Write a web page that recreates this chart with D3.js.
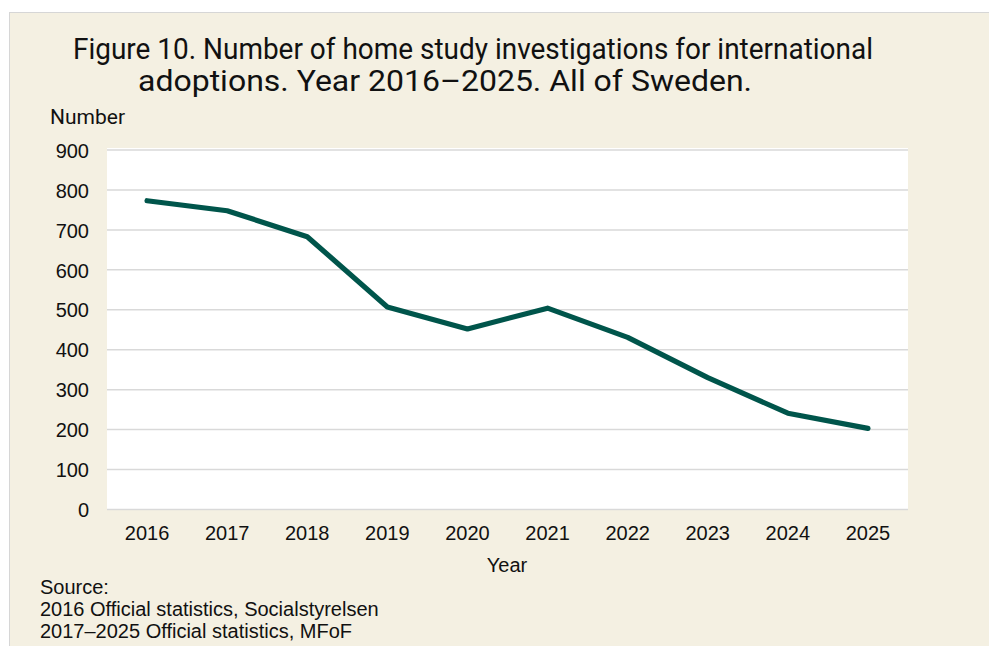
<!DOCTYPE html>
<meta charset="utf-8">
<title>Home study investigations</title>
<style>
body { margin: 0; background: #fff; }
.tick text { font-family: "Liberation Sans", Arial, sans-serif; font-size: 20px; fill: #111; }
.grid line { stroke: #d9d9d9; stroke-width: 1.5; }
</style>
<body>
<script src="https://cdn.jsdelivr.net/npm/d3@7"></script>
<script>

// data
var years = ["2016","2017","2018","2019","2020","2021","2022","2023","2024","2025"];
var counts = [773, 748, 683, 507, 452, 504, 431, 330, 241, 203];
var yTicks = [0,100,200,300,400,500,600,700,800,900];
var titleLines = ["Figure 10. Number of home study investigations for international",
                  "adoptions. Year 2016\u20132025. All of Sweden."];
var sourceLines = ["Source:", "2016 Official statistics, Socialstyrelsen", "2017\u20132025 Official statistics, MFoF"];

var width = 989, height = 646;
var plotL = 107, plotR = 908, plotT = 150, plotB = 509.5;

var svg = d3.select("body").append("svg")
    .attr("width", width)
    .attr("height", height);

// outer panel
svg.append("rect")
    .attr("x", 9.5).attr("y", 12.5)
    .attr("width", width).attr("height", height)
    .attr("fill", "#f4f0e2")
    .attr("stroke", "#d6d6d6");

// plot area
svg.append("rect")
    .attr("x", plotL).attr("y", plotT - 2)
    .attr("width", plotR - plotL).attr("height", plotB - plotT + 2)
    .attr("fill", "#fff");

var x = d3.scaleBand().domain(years).range([plotL, plotR]);
var y = d3.scaleLinear().domain([0, 900]).range([plotB, plotT]);

// gridlines
svg.append("g").attr("class", "grid")
  .selectAll("line").data(yTicks).enter().append("line")
    .attr("x1", plotL).attr("x2", plotR)
    .attr("y1", function(d) { return y(d); })
    .attr("y2", function(d) { return y(d); });

// y axis labels
var yAxis = svg.append("g")
    .attr("transform", "translate(" + (plotL - 18) + ",0)")
    .call(d3.axisLeft(y).tickValues(yTicks).tickSize(0).tickPadding(0));
yAxis.select(".domain").remove();
yAxis.selectAll("text").attr("dy", "0.36em");

// x axis labels
var xAxis = svg.append("g")
    .attr("transform", "translate(0," + plotB + ")")
    .call(d3.axisBottom(x).tickSize(0).tickPadding(16));
xAxis.select(".domain").remove();

var line = d3.line()
    .x(function(d, i) { return x(years[i]) + x.bandwidth() / 2; })
    .y(function(d) { return y(d); });

svg.append("path")
    .datum(counts)
    .attr("d", line)
    .attr("fill", "none")
    .attr("stroke", "#00554b")
    .attr("stroke-width", 5.2)
    .attr("stroke-linecap", "round")
    .attr("stroke-linejoin", "round");

// title
var titleLens = [800, 614];
var titleX = [473, 445];
svg.selectAll(".title").data(titleLines).enter().append("text")
    .attr("class", "title")
    .attr("x", function(d, i) { return titleX[i]; })
    .attr("y", function(d, i) { return 59 + i * 32; })
    .attr("text-anchor", "middle")
    .attr("textLength", function(d, i) { return titleLens[i]; })
    .attr("lengthAdjust", "spacingAndGlyphs")
    .style("font-family", "Roboto, sans-serif")
    .style("font-size", "29px")
    .style("fill", "#111")
    .text(function(d) { return d; });

svg.append("text")
    .attr("x", 50).attr("y", 124)
    .attr("textLength", 75)
    .attr("lengthAdjust", "spacingAndGlyphs")
    .style("font-family", "Roboto, sans-serif")
    .style("font-size", "20px")
    .style("fill", "#111")
    .text("Number");

svg.append("text")
    .attr("x", 507).attr("y", 572)
    .attr("text-anchor", "middle")
    .style("font-family", "\"Liberation Sans\", Arial, sans-serif")
    .style("font-size", "20px")
    .style("fill", "#111")
    .text("Year");

svg.selectAll(".src").data(sourceLines).enter().append("text")
    .attr("class", "src")
    .attr("x", 40)
    .attr("y", function(d, i) { return 594 + i * 22; })
    .style("font-family", "\"Liberation Sans\", Arial, sans-serif")
    .style("font-size", "20px")
    .style("fill", "#111")
    .text(function(d) { return d; });

</script>
</body>
